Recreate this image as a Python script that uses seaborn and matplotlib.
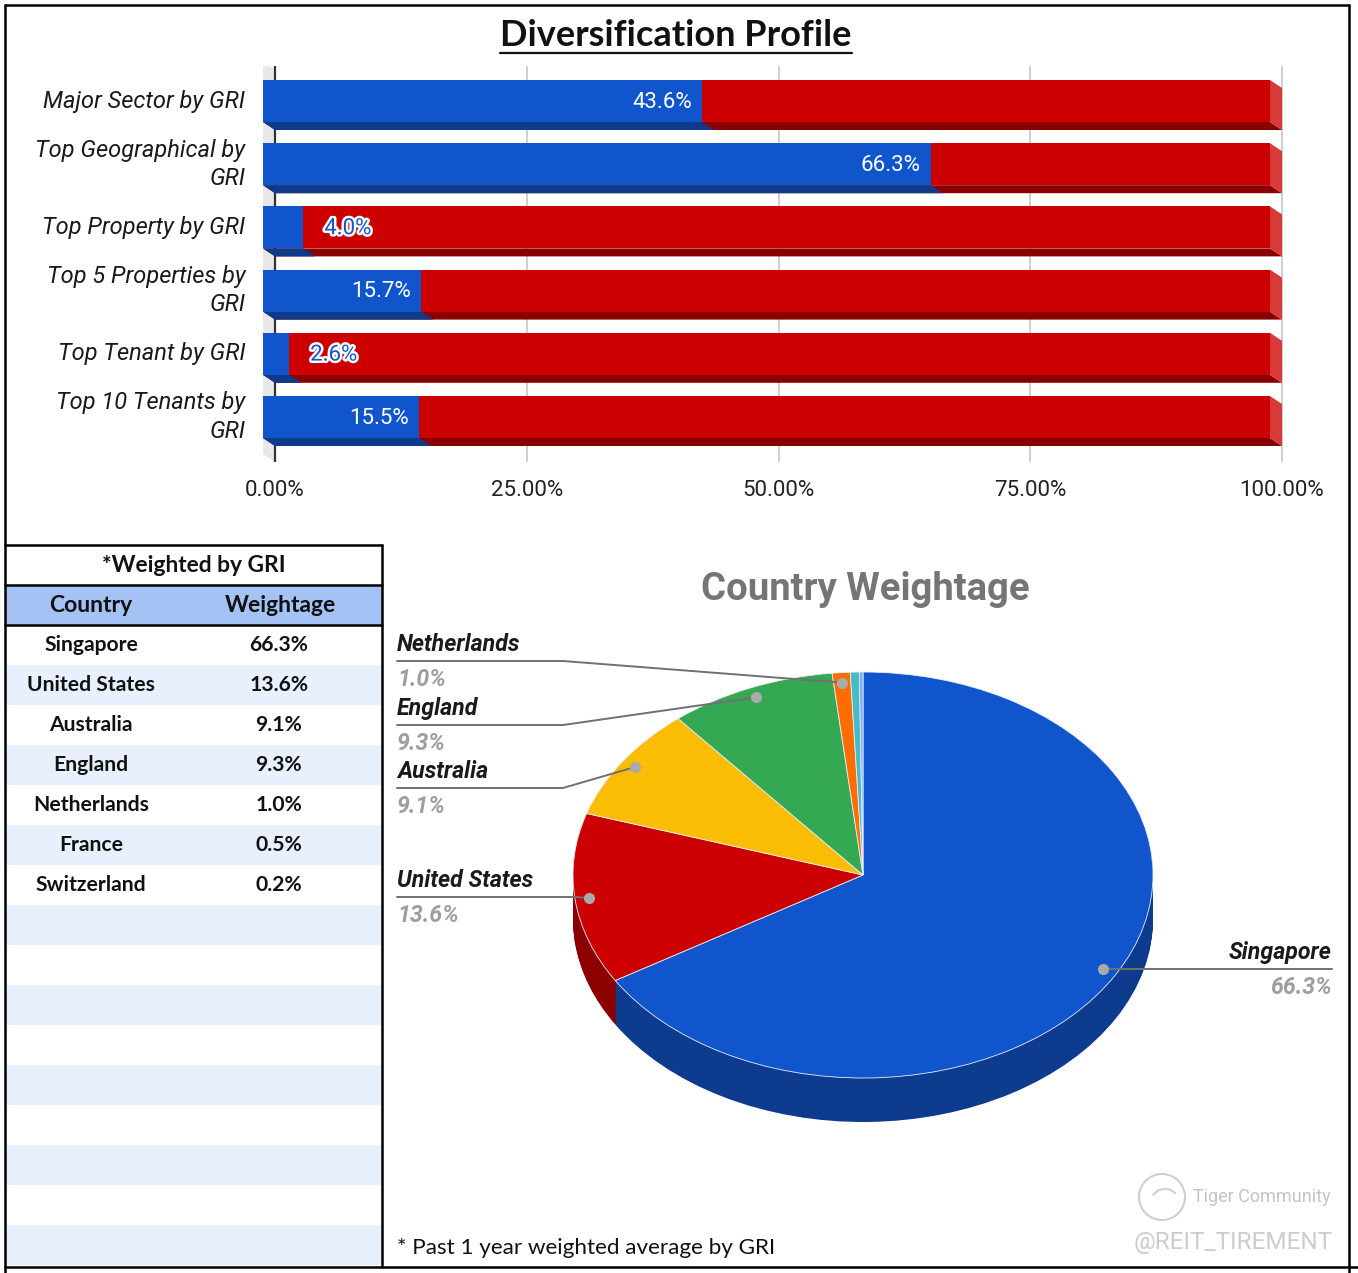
import numpy as np
import pandas as pd
import matplotlib
matplotlib.use("Agg")
import matplotlib.pyplot as plt
import matplotlib.patheffects as pe
from matplotlib.patches import Polygon, Rectangle, Circle, Arc
from matplotlib.transforms import ScaledTranslation
import seaborn as sns

# ---- data ----
metrics = ["Major Sector by GRI", "Top Geographical by\nGRI", "Top Property by GRI",
           "Top 5 Properties by\nGRI", "Top Tenant by GRI", "Top 10 Tenants by\nGRI"]
shares = [0.436, 0.663, 0.040, 0.157, 0.026, 0.155]
x_ticks = [0.0, 0.25, 0.50, 0.75, 1.0]

countries = ["Singapore", "United States", "Australia", "England",
             "Netherlands", "France", "Switzerland"]
weights = [66.3, 13.6, 9.1, 9.3, 1.0, 0.5, 0.2]

# ---- colours ----
BLUE, BLUE_DARK = "#1155cc", "#0e3a8c"
RED, RED_DARK, RED_SIDE = "#cc0000", "#8a0000", "#d83a3a"
pie_top = ["#1155cc", "#cc0000", "#fbbc04", "#34a853", "#ff6d01", "#46bdc6", "#7baaf7"]
pie_side = ["#0d3b8e", "#8c0000", "#b08503", "#24763a", "#b34c01", "#31848b", "#5677ad"]

W, H = 1358, 1273
sns.set_theme(style="white")
plt.rcParams["font.family"] = ["Roboto", "DejaVu Sans"]

fig = plt.figure(figsize=(W / 100, H / 100), dpi=100)


def px_axes(x0, y0, x1, y1):
    a = fig.add_axes([x0 / W, 1 - y1 / H, (x1 - x0) / W, (y1 - y0) / H])
    a.patch.set_alpha(0)
    return a


# full-figure canvas in pixel units for frame, table and notes
canvas = px_axes(0, 0, W, H)
canvas.set_xlim(0, W)
canvas.set_ylim(H, 0)
canvas.axis("off")

# ================= bar chart =================
X0PX, X1PX = 275, 1282          # 0% and 100% (back plane)
ROW0, ROWSTEP = 109, 63.2       # first row centre, row spacing
DX, DY = 12, 8                  # 3D extrusion in px
AL, AR, AT, AB = 255, 1292, 66, 462
ax = px_axes(AL, AT, AR, AB)
xu = X1PX - X0PX
dx, dy = DX / xu, DY / ROWSTEP
bar_h = 42 / ROWSTEP

df = pd.DataFrame({"metric": metrics, "share": shares, "total": 1.0})
sns.barplot(data=df, x="total", y="metric", color=RED, saturation=1, width=bar_h,
            linewidth=0, errorbar=None, orient="h", ax=ax)
sns.barplot(data=df, x="share", y="metric", color=BLUE, saturation=1, width=bar_h,
            linewidth=0, errorbar=None, orient="h", ax=ax)

n = len(metrics)
for k, p in enumerate(list(ax.patches)):
    x0, w, y, h = p.get_x(), p.get_width(), p.get_y(), p.get_height()
    is_red = k < n
    bottom = Polygon([(x0 - dx, y + h - dy), (x0 + w - dx, y + h - dy), (x0 + w, y + h), (x0, y + h)],
                     closed=True, facecolor=RED_DARK if is_red else BLUE_DARK, lw=0,
                     zorder=1.2 if is_red else 1.4)
    ax.add_patch(bottom)
    if is_red:
        side = Polygon([(x0 + w - dx, y - dy), (x0 + w, y), (x0 + w, y + h), (x0 + w - dx, y + h - dy)],
                       closed=True, facecolor=RED_SIDE, lw=0, zorder=1.2)
        ax.add_patch(side)
    p.set_x(x0 - dx)
    p.set_y(y - dy)
    p.set_zorder(2 if is_red else 2.2)

ax.set_xlim((AL - X0PX) / xu, (AR - X0PX) / xu)
ax.set_ylim((AB - ROW0) / ROWSTEP, (AT - ROW0) / ROWSTEP)
ytop, ybot = ax.get_ylim()[1], ax.get_ylim()[0]

# light grey side wall
ax.add_patch(Polygon([(-dx, ytop - dy + 0.06), (0, ytop + 0.06), (0, ybot), (-dx, ybot - dy)],
                     closed=True, facecolor="#e8e8e8", lw=0, zorder=0.3))
ax.axvline(0, color="#333333", lw=1.6, zorder=0.6)

ax.set_xticks(x_ticks)
ax.set_xticklabels([f"{t:.2%}" for t in x_ticks])
ax.grid(axis="x", color="#cccccc", lw=1.3)
ax.grid(axis="y", visible=False)
ax.set_axisbelow(True)
ax.tick_params(axis="x", length=0, pad=13, labelsize=16, labelcolor="#222222")
ax.tick_params(axis="y", length=0, pad=7, labelsize=17, labelcolor="#1a1a1a")
ax.set_yticks(range(n))
ax.set_yticklabels(metrics, fontstyle="italic", linespacing=1.3)
shift = ScaledTranslation(0, DY / 100, fig.dpi_scale_trans)
for lab in ax.get_yticklabels():
    lab.set_transform(lab.get_transform() + shift)
    lab.set_va("center")
ax.set_xlabel("")
ax.set_ylabel("")
sns.despine(ax=ax, left=True, bottom=True)

for i, s in enumerate(shares):
    xe = s - dx
    if s >= 0.10:
        ax.text(xe - 10 / xu, i - dy + 0.02, f"{s:.1%}", ha="right", va="center",
                color="white", fontsize=16, zorder=5)
    else:
        ax.text(xe + 21 / xu, i - dy + 0.02, f"{s:.1%}", ha="left", va="center",
                color=BLUE, fontsize=16, zorder=5,
                path_effects=[pe.withStroke(linewidth=3.5, foreground="white")])

title = canvas.text(676, 35, "Diversification Profile", ha="center", va="center",
                    fontsize=26, fontweight="bold", family=["Lato", "DejaVu Sans"], color="#111111")

# ================= pie chart =================
CX, CY, RX, RY, DEPTH = 863, 875, 290, 203, 44
PL, PR, PT, PB = 390, 1345, 630, 1150
pax = px_axes(PL, PT, PR, PB)


def to_pie(px, py):
    return (px - CX) / RX, (CY - py) / RY


for d in np.linspace(DEPTH / RY, 0, 46, endpoint=False):
    pax.pie(weights, colors=pie_side, startangle=90, counterclock=False,
            center=(0, -d), radius=1, wedgeprops=dict(linewidth=0))
pax.pie(weights, colors=pie_top, startangle=90, counterclock=False,
        center=(0, 0), radius=1, wedgeprops=dict(edgecolor="#e8eefa", linewidth=0.6))
pax.set_aspect("auto")
pax.set_xlim(to_pie(PL, 0)[0], to_pie(PR, 0)[0])
pax.set_ylim(to_pie(0, PB)[1], to_pie(0, PT)[1])
pax.axis("off")

canvas.text(CX + 2, 589, "Country Weightage", ha="center", va="center", fontsize=27.5,
            fontweight="bold", color="#757575")

# leader-line layout (px): label x, line y, elbow x, side
label_layout = {
    "Netherlands": (397, 661, 563, "left"),
    "England": (397, 725, 563, "left"),
    "Australia": (397, 788, 563, "left"),
    "United States": (397, 897, 575, "left"),
    "Singapore": (1332, 969, None, "right"),
}
cum = np.cumsum([0] + weights[:-1]) / 100
for name, w, c0 in zip(countries, weights, cum):
    if name not in label_layout:
        continue
    theta = 2 * np.pi * (c0 + w / 200)
    dxp, dyp = 0.95 * np.sin(theta), 0.95 * np.cos(theta)
    lx, ly, ex, side = label_layout[name]
    lxd, lyd = to_pie(lx, ly)
    exd = dxp if ex is None else to_pie(ex, 0)[0]
    pax.plot([lxd, exd, dxp], [lyd, lyd, dyp], color="#707070", lw=1.4, zorder=10, clip_on=False)
    pax.plot([dxp], [dyp], "o", color="#aaaaaa", ms=7, zorder=11, clip_on=False)
    ha = "left" if side == "left" else "right"
    canvas.text(lx, ly - 5, name, ha=ha, va="bottom", fontsize=16.7, fontweight="bold",
                fontstyle="italic", color="#1a1a1a")
    canvas.text(lx, ly + 7, f"{w:.1f}%", ha=ha, va="top", fontsize=16.7, fontweight="bold",
                fontstyle="italic", color="#9e9e9e")

# ================= table =================
TL, TR, TTOP = 5, 382, 545
ROW_T, ROW_H, N_ROWS = 625, 40, 16
tfont = ["Lato", "DejaVu Sans"]
canvas.add_patch(Rectangle((TL, 585), TR - TL, 40, facecolor="#a4c2f4", lw=0))
for k in range(N_ROWS):
    if k % 2:
        canvas.add_patch(Rectangle((TL, ROW_T + k * ROW_H), TR - TL, ROW_H,
                                   facecolor="#e8f0fe", lw=0))
canvas.text((TL + TR) / 2, 565, "*Weighted by GRI", ha="center", va="center",
            fontsize=16.4, fontweight="bold", family=tfont, color="#111111")
canvas.text(91, 606, "Country", ha="center", va="center", fontsize=16.5,
            fontweight="bold", family=tfont, color="#111111")
canvas.text(280, 606, "Weightage", ha="center", va="center", fontsize=16.5,
            fontweight="bold", family=tfont, color="#111111")
for k, (c, w) in enumerate(zip(countries, weights)):
    yc = ROW_T + k * ROW_H + ROW_H / 2
    canvas.text(91, yc, c, ha="center", va="center", fontsize=15.2,
                fontweight="bold", family=tfont, color="#111111")
    canvas.text(279, yc, f"{w:.1f}%", ha="center", va="center", fontsize=15.2,
                fontweight="bold", family=tfont, color="#111111")

lw_frame = 1.8
for y in (TTOP, 585, 625):
    canvas.plot([TL, TR], [y, y], color="black", lw=lw_frame)
canvas.plot([TR, TR], [TTOP, 1267], color="black", lw=lw_frame)

# outer frame
canvas.plot([5, 1349], [5, 5], color="black", lw=lw_frame)
canvas.plot([5, 5], [5, 1273], color="black", lw=lw_frame)
canvas.plot([1349, 1349], [5, 1273], color="black", lw=lw_frame)
canvas.plot([5, 1358], [1267, 1267], color="black", lw=lw_frame)

# footnote and watermark
canvas.text(397, 1248, "* Past 1 year weighted average by GRI", ha="left", va="center",
            fontsize=16.2, family=tfont, color="#111111")
canvas.add_patch(Circle((1162, 1197), 23, fill=False, ec="#cfcfcf", lw=1.5))
canvas.add_patch(Arc((1165, 1200), 26, 22, theta1=200, theta2=330, ec="#cfcfcf", lw=1.5))
canvas.text(1193, 1197, "Tiger Community", ha="left", va="center", fontsize=13,
            color="#c4c4c4")
canvas.text(1233, 1242, "@REIT_TIREMENT", ha="center", va="center", fontsize=17.5,
            color="#cccccc")

# underline the main title
fig.canvas.draw()
bb = title.get_window_extent()
inv = canvas.transData.inverted()
(ux0, uy0), (ux1, _) = inv.transform([(bb.x0, bb.y0), (bb.x1, bb.y0)])
canvas.plot([ux0, ux1], [uy0 + 1, uy0 + 1], color="#111111", lw=1.6)

fig.savefig("out.png", dpi=100)
